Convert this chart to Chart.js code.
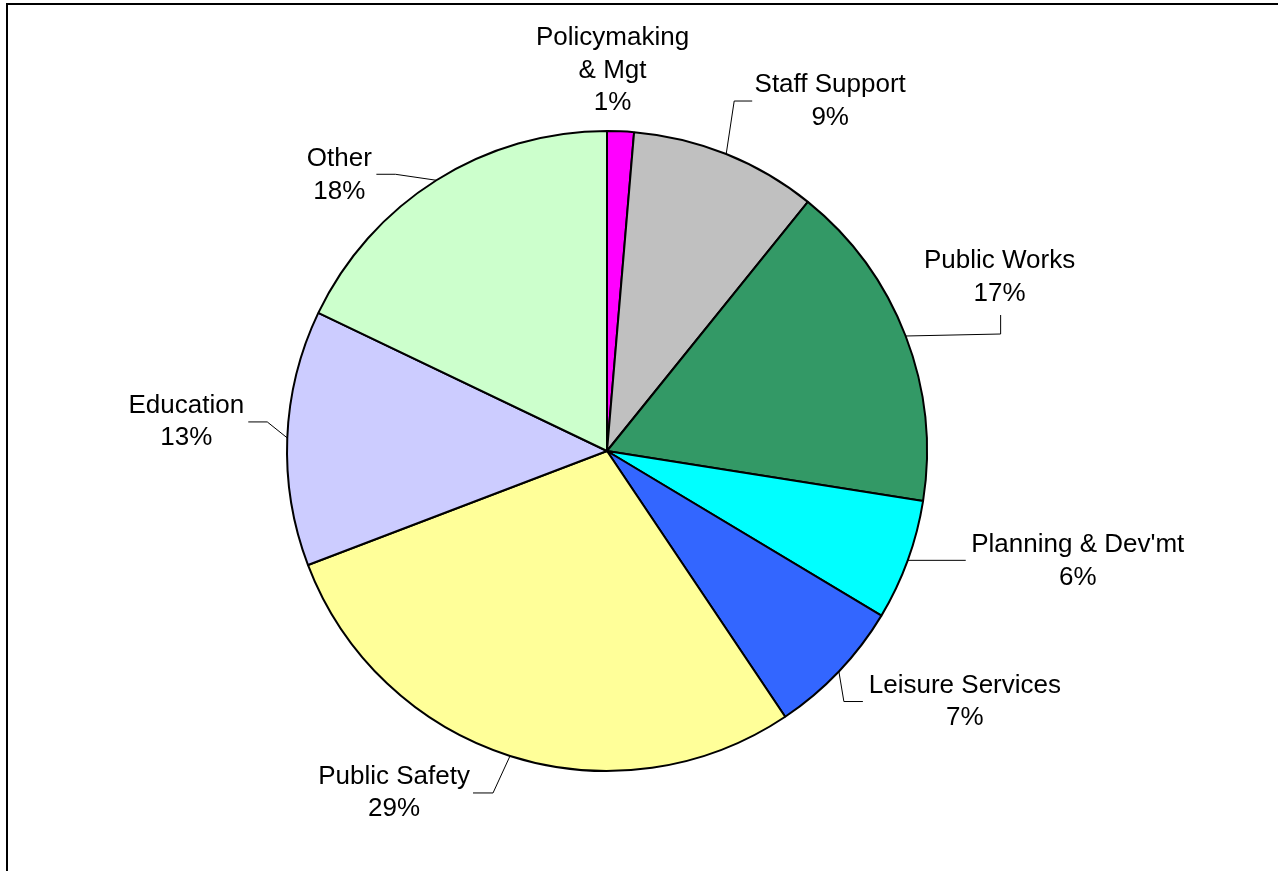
<!DOCTYPE html>
<html>
<head>
<meta charset="utf-8">
<script src="https://cdn.jsdelivr.net/npm/chart.js@4/dist/chart.umd.min.js"></script>
<style>
  html, body { margin: 0; padding: 0; background: #fff; }
  #wrap { position: relative; width: 1278px; height: 871px; }
</style>
</head>
<body>
<div id="wrap"><canvas id="myChart" width="1278" height="871"></canvas></div>
<script>
// budget shares by program area (percent)
const categories = ['Policymaking\n& Mgt', 'Staff Support', 'Public Works', "Planning & Dev'mt",
                    'Leisure Services', 'Public Safety', 'Education', 'Other']
const shares = [1.35, 9.45, 16.7, 6.1, 7.0, 28.6, 12.9, 17.9]
const sliceColors = ['#FF00FF', '#C0C0C0', '#339966', '#00FFFF', '#3366FF', '#FFFF99', '#CCCCFF', '#CCFFCC']

// label placement relative to the outer edge of each slice:
// text = [dx, dy of first baseline], leader = elbow/end points (null = no leader)
const labelLayout = [
    {text: [-8, -86], leader: null},
    {text: [104, -62], leader: [[8, -53], [26, -53]]},
    {text: [94, -68], leader: [[95, -2], [95, -21]]},
    {text: [170, -8], leader: [[58, 0], [58, 0]]},
    {text: [126, 21], leader: [[5, 30], [24, 30]]},
    {text: [-116, 28], leader: [[-17, 37], [-37, 37]]},
    {text: [-101, -25], leader: [[-20, -16], [-39, -16]]},
    {text: [-97, -14], leader: [[-41, -6], [-60, -6]]}
]

const frame = {
    id: 'frame',
    beforeDraw(chart) {
        const c = chart.ctx
        c.save()
        c.fillStyle = '#fff'
        c.fillRect(0, 0, chart.width, chart.height)
        c.strokeStyle = '#000'
        c.lineWidth = 2
        c.strokeRect(7, 4, chart.width + 20, chart.height + 20)
        c.restore()
    }
}

const sliceLabels = {
    id: 'sliceLabels',
    afterDatasetsDraw(chart) {
        const c = chart.ctx
        const meta = chart.getDatasetMeta(0)
        c.save()
        c.font = '26px "Liberation Sans", Arial, sans-serif'
        c.fillStyle = '#000'
        c.textAlign = 'center'
        c.textBaseline = 'alphabetic'
        meta.data.forEach((arc, i) => {
            const p = arc.getProps(['x', 'y', 'startAngle', 'endAngle', 'outerRadius'], true)
            const mid = (p.startAngle + p.endAngle) / 2
            const ex = p.x + Math.cos(mid) * p.outerRadius
            const ey = p.y + Math.sin(mid) * p.outerRadius
            const lay = labelLayout[i]
            if (lay.leader) {
                c.beginPath()
                c.strokeStyle = '#000'
                c.lineWidth = 1
                c.moveTo(ex, ey)
                lay.leader.forEach(pt => c.lineTo(ex + pt[0], ey + pt[1]))
                c.stroke()
            }
            const lines = categories[i].split('\n')
            lines.push(Math.round(shares[i]) + '%')
            lines.forEach((t, k) => {
                c.fillText(t, ex + lay.text[0], ey + lay.text[1] + k * 32.5)
            })
        })
        c.restore()
    }
}

const ctx = document.getElementById('myChart').getContext('2d')
new Chart(ctx, {
    type: 'pie',
    data: {
        labels: categories,
        datasets: [{
            data: shares,
            backgroundColor: sliceColors,
            borderColor: '#000',
            borderWidth: 2
        }]
    },
    options: {
        responsive: false,
        animation: false,
        layout: {padding: {left: 286, right: 350, top: 130, bottom: 99}},
        plugins: {
            legend: {display: false},
            tooltip: {enabled: false}
        }
    },
    plugins: [frame, sliceLabels]
})
</script>
</body>
</html>
